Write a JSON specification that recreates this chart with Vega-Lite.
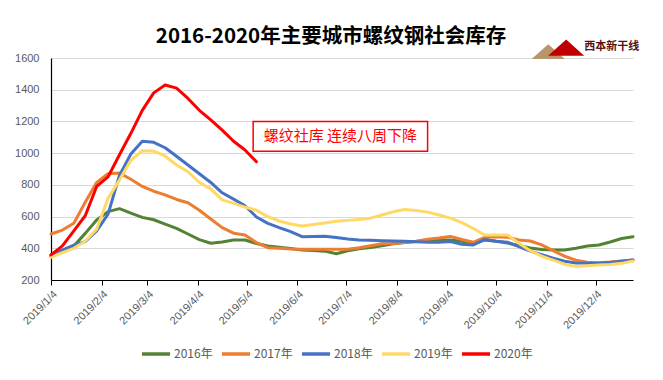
{
  "$schema": "https://vega.github.io/schema/vega-lite/v6.json",
  "autosize": "none",
  "width": 582,
  "height": 222,
  "padding": {"left": 51, "top": 58, "right": 30, "bottom": 100},
  "background": "white",
  "title": {"text": "2016-2020年主要城市螺纹钢社会库存", "font": "Noto Sans CJK SC", "fontSize": 20.5, "fontWeight": "bold", "color": "#000000", "anchor": "middle", "offset": -8, "dx": -11},
  "config": {"view": {"stroke": null}},
  "datasets": {
    "inv": [
      {"date": "2019-01-04", "2016年": 347, "2017年": 490, "2018年": 358, "2019年": 343, "2020年": 358},
      {"date": "2019-01-11", "2016年": 385, "2017年": 515, "2018年": 389, "2019年": 372, "2020年": 415},
      {"date": "2019-01-18", "2016年": 415, "2017年": 558, "2018年": 420, "2019年": 400, "2020年": 510},
      {"date": "2019-01-25", "2016年": 494, "2017年": 690, "2018年": 442, "2019年": 445, "2020年": 605},
      {"date": "2019-02-01", "2016年": 578, "2017年": 815, "2018年": 510, "2019年": 520, "2020年": 790},
      {"date": "2019-02-08", "2016年": 631, "2017年": 870, "2018年": 615, "2019年": 715, "2020年": 850},
      {"date": "2019-02-15", "2016年": 650, "2017年": 875, "2018年": 860, "2019年": 830, "2020年": 990},
      {"date": "2019-02-22", "2016年": 622, "2017年": 835, "2018年": 995, "2019年": 955, "2020年": 1125},
      {"date": "2019-03-01", "2016年": 595, "2017年": 790, "2018年": 1075, "2019年": 1015, "2020年": 1270},
      {"date": "2019-03-08", "2016年": 580, "2017年": 760, "2018年": 1068, "2019年": 1013, "2020年": 1380},
      {"date": "2019-03-15", "2016年": 552, "2017年": 737, "2018年": 1034, "2019年": 982, "2020年": 1430},
      {"date": "2019-03-22", "2016年": 525, "2017年": 708, "2018年": 980, "2019年": 925, "2020年": 1410},
      {"date": "2019-03-29", "2016年": 490, "2017年": 687, "2018年": 925, "2019年": 883, "2020年": 1345},
      {"date": "2019-04-05", "2016年": 455, "2017年": 640, "2018年": 870, "2019年": 815, "2020年": 1270},
      {"date": "2019-04-12", "2016年": 432, "2017年": 585, "2018年": 815, "2019年": 775, "2020年": 1210},
      {"date": "2019-04-19", "2016年": 440, "2017年": 530, "2018年": 750, "2019年": 705, "2020年": 1145},
      {"date": "2019-04-26", "2016年": 452, "2017年": 495, "2018年": 710, "2019年": 683, "2020年": 1075},
      {"date": "2019-05-03", "2016年": 452, "2017年": 484, "2018年": 668, "2019年": 660, "2020年": 1020},
      {"date": "2019-05-10", "2016年": 430, "2017年": 436, "2018年": 597, "2019年": 640, "2020年": 946},
      {"date": "2019-05-17", "2016年": 414, "2017年": 404, "2018年": 557, "2019年": 600},
      {"date": "2019-05-24", "2016年": 406, "2017年": 400, "2018年": 530, "2019年": 572},
      {"date": "2019-05-31", "2016年": 398, "2017年": 396, "2018年": 505, "2019年": 553},
      {"date": "2019-06-07", "2016年": 389, "2017年": 394, "2018年": 473, "2019年": 540},
      {"date": "2019-06-14", "2016年": 386, "2017年": 394, "2018年": 475, "2019年": 550},
      {"date": "2019-06-21", "2016年": 382, "2017年": 394, "2018年": 476, "2019年": 560},
      {"date": "2019-06-28", "2016年": 366, "2017年": 394, "2018年": 468, "2019年": 570},
      {"date": "2019-07-05", "2016年": 384, "2017年": 394, "2018年": 458, "2019年": 576},
      {"date": "2019-07-12", "2016年": 397, "2017年": 404, "2018年": 453, "2019年": 582},
      {"date": "2019-07-19", "2016年": 405, "2017年": 416, "2018年": 450, "2019年": 590},
      {"date": "2019-07-26", "2016年": 416, "2017年": 428, "2018年": 448, "2019年": 610},
      {"date": "2019-08-02", "2016年": 428, "2017年": 430, "2018年": 446, "2019年": 630},
      {"date": "2019-08-09", "2016年": 437, "2017年": 437, "2018年": 444, "2019年": 644},
      {"date": "2019-08-16", "2016年": 443, "2017年": 445, "2018年": 441, "2019年": 638},
      {"date": "2019-08-23", "2016年": 451, "2017年": 457, "2018年": 438, "2019年": 628},
      {"date": "2019-08-30", "2016年": 452, "2017年": 465, "2018年": 438, "2019年": 610},
      {"date": "2019-09-06", "2016年": 453, "2017年": 475, "2018年": 442, "2019年": 590},
      {"date": "2019-09-13", "2016年": 445, "2017年": 455, "2018年": 425, "2019年": 562},
      {"date": "2019-09-20", "2016年": 433, "2017年": 438, "2018年": 421, "2019年": 525},
      {"date": "2019-09-27", "2016年": 452, "2017年": 468, "2018年": 455, "2019年": 484},
      {"date": "2019-10-04", "2016年": 444, "2017年": 472, "2018年": 445, "2019年": 484},
      {"date": "2019-10-11", "2016年": 433, "2017年": 470, "2018年": 438, "2019年": 484},
      {"date": "2019-10-18", "2016年": 418, "2017年": 452, "2018年": 410, "2019年": 432},
      {"date": "2019-10-25", "2016年": 402, "2017年": 446, "2018年": 382, "2019年": 385},
      {"date": "2019-11-01", "2016年": 392, "2017年": 421, "2018年": 360, "2019年": 350},
      {"date": "2019-11-08", "2016年": 389, "2017年": 385, "2018年": 338, "2019年": 325},
      {"date": "2019-11-15", "2016年": 389, "2017年": 350, "2018年": 318, "2019年": 300},
      {"date": "2019-11-22", "2016年": 400, "2017年": 325, "2018年": 307, "2019年": 285},
      {"date": "2019-11-29", "2016年": 414, "2017年": 312, "2018年": 305, "2019年": 290},
      {"date": "2019-12-06", "2016年": 421, "2017年": 309, "2018年": 305, "2019年": 295},
      {"date": "2019-12-13", "2016年": 440, "2017年": 313, "2018年": 310, "2019年": 298},
      {"date": "2019-12-20", "2016年": 462, "2017年": 320, "2018年": 318, "2019年": 305},
      {"date": "2019-12-27", "2016年": 473, "2017年": 326, "2018年": 326, "2019年": 320}
    ]
  },
  "layer": [
    {
      "data": {"name": "inv"},
      "transform": [
        {"fold": ["2016年", "2017年", "2018年", "2019年", "2020年"], "as": ["series", "value"]},
        {"filter": "isValid(datum.value)"}
      ],
      "mark": {"type": "line", "strokeWidth": 3, "strokeJoin": "round", "strokeCap": "round"},
      "encoding": {
        "x": {
          "field": "date", "type": "temporal",
          "scale": {"type": "utc", "domain": [{"year": 2019, "month": 1, "date": 4, "utc": true}, {"year": 2019, "month": 12, "date": 27, "utc": true}]},
          "axis": {
            "title": null,
            "values": [
              {"year": 2019, "month": 1, "date": 4, "utc": true},
              {"year": 2019, "month": 2, "date": 4, "utc": true},
              {"year": 2019, "month": 3, "date": 4, "utc": true},
              {"year": 2019, "month": 4, "date": 4, "utc": true},
              {"year": 2019, "month": 5, "date": 4, "utc": true},
              {"year": 2019, "month": 6, "date": 4, "utc": true},
              {"year": 2019, "month": 7, "date": 4, "utc": true},
              {"year": 2019, "month": 8, "date": 4, "utc": true},
              {"year": 2019, "month": 9, "date": 4, "utc": true},
              {"year": 2019, "month": 10, "date": 4, "utc": true},
              {"year": 2019, "month": 11, "date": 4, "utc": true},
              {"year": 2019, "month": 12, "date": 4, "utc": true}
            ],
            "tickCount": 20,
            "labelExpr": "utcFormat(datum.value, '%Y/%-m/%-d')",
            "labelAngle": -45, "labelFont": "Liberation Sans", "labelFontSize": 11, "labelColor": "#595959",
            "grid": false, "domainColor": "#000000", "domainWidth": 1.2, "tickColor": "#000000", "tickSize": 5, "labelPadding": 3, "labelOverlap": false
          }
        },
        "y": {
          "field": "value", "type": "quantitative",
          "scale": {"domain": [200, 1600], "nice": false, "zero": false},
          "axis": {
            "title": null, "values": [200, 400, 600, 800, 1000, 1200, 1400, 1600], "tickCount": 10, "format": "d", "labelOverlap": false,
            "labelFont": "Liberation Sans", "labelFontSize": 11, "labelColor": "#595959", "labelPadding": 12,
            "ticks": false, "domainColor": "#000000", "domainWidth": 1.2,
            "gridColor": "#d9d9d9", "gridWidth": 1
          }
        },
        "color": {
          "field": "series", "type": "nominal",
          "scale": {"domain": ["2016年", "2017年", "2018年", "2019年", "2020年"], "range": ["#548235", "#ED7D31", "#4472C4", "#FFD966", "#FF0000"]},
          "legend": {
            "title": null, "orient": "none", "legendX": 89, "legendY": 280, "direction": "horizontal",
            "symbolType": "stroke", "symbolSize": 784, "symbolStrokeWidth": 3.5,
            "labelFont": "Noto Sans CJK SC", "labelFontSize": 12, "labelColor": "#595959", "labelOffset": 2, "columnPadding": 2
          }
        }
      }
    },
    {
      "data": {"values": [{}]},
      "mark": {"type": "rect", "fill": "white", "stroke": "#FF0000", "strokeWidth": 1.5},
      "encoding": {
        "x": {"datum": {"year": 2019, "month": 5, "date": 8, "utc": true}, "type": "temporal"},
        "x2": {"datum": {"year": 2019, "month": 8, "date": 23, "utc": true}},
        "y": {"datum": 1200, "type": "quantitative"},
        "y2": {"datum": 1012}
      }
    },
    {
      "data": {"values": [{"label": "螺纹社库 连续八周下降"}]},
      "mark": {"type": "text", "font": "Noto Sans CJK SC", "fontSize": 15, "color": "#FF0000", "align": "center", "baseline": "middle"},
      "encoding": {
        "x": {"datum": {"year": 2019, "month": 6, "date": 30, "hours": 12, "utc": true}, "type": "temporal"},
        "y": {"datum": 1106, "type": "quantitative"},
        "text": {"field": "label"}
      }
    },
    {
      "data": {"values": [{"part": "tan"}]},
      "mark": {"type": "point", "shape": "M -1 0.45 L 0 -0.45 L 1 0.45 Z", "filled": true, "color": "#B8956A", "opacity": 1, "size": 1100},
      "encoding": {
        "x": {"datum": {"year": 2019, "month": 11, "date": 5, "utc": true}, "type": "temporal"},
        "y": {"datum": 1640, "type": "quantitative"}
      }
    },
    {
      "data": {"values": [{"part": "red"}]},
      "mark": {"type": "point", "shape": "M -1 0.45 L 0 -0.45 L 1 0.45 Z", "filled": true, "color": "#C00000", "opacity": 1, "size": 1300},
      "encoding": {
        "x": {"datum": {"year": 2019, "month": 11, "date": 16, "utc": true}, "type": "temporal"},
        "y": {"datum": 1665, "type": "quantitative"}
      }
    },
    {
      "data": {"values": [{"label": "西本新干线"}]},
      "mark": {"type": "text", "font": "Noto Sans CJK SC", "fontSize": 11, "fontWeight": "bold", "color": "#5a1010", "align": "center", "baseline": "middle"},
      "encoding": {
        "x": {"datum": {"year": 2019, "month": 12, "date": 14, "utc": true}, "type": "temporal"},
        "y": {"datum": 1670, "type": "quantitative"},
        "text": {"field": "label"}
      }
    }
  ]
}
